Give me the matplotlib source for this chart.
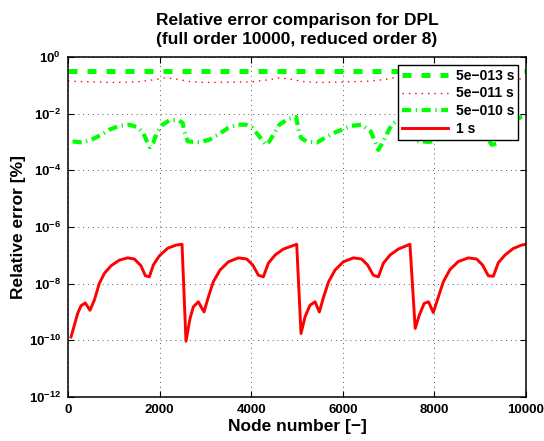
import numpy as np
import matplotlib
matplotlib.use("Agg")
import matplotlib.pyplot as plt
from matplotlib.ticker import FuncFormatter

plt.rcParams["font.family"] = ["Liberation Sans", "DejaVu Sans"]
plt.rcParams["mathtext.fontset"] = "custom"
plt.rcParams["mathtext.bf"] = "Liberation Sans:bold"
plt.rcParams["mathtext.rm"] = "Liberation Sans:bold"

# values stored as log10 of the relative error

# series 1: 5e-013 s (flat)
n_a = [0, 10000]
exp_a = [-0.51, -0.51]

# series 2: 5e-011 s
n_b = [0, 500, 1000, 1500, 1900, 2100, 2300, 2500, 2700, 3000, 3500, 4000,
       4400, 4600, 4800, 5000, 5200, 5500, 6000, 6500, 6900, 7100, 7300,
       7500, 7700, 8000, 8500, 9000, 9400, 9600, 9800, 10000]
exp_b = [-0.85, -0.88, -0.90, -0.88, -0.80, -0.74, -0.76, -0.82, -0.88, -0.90,
         -0.89, -0.88, -0.80, -0.74, -0.77, -0.83, -0.88, -0.90, -0.88, -0.86,
         -0.80, -0.74, -0.76, -0.83, -0.88, -0.89, -0.90, -0.87, -0.80, -0.74,
         -0.76, -0.80]

# series 3: 5e-010 s
n_c = [100, 320, 540, 720, 900, 1120, 1340, 1520, 1645, 1740, 1790, 1860,
       1935, 2065, 2210, 2400, 2505, 2540, 2615,
       2870, 3085, 3270, 3490, 3705, 3885, 4030, 4180, 4320, 4395, 4505, 4615,
       4800, 4980, 5050, 5090,
       5210, 5430, 5790, 6190, 6410, 6610, 6700, 6775, 6885, 6970, 7065, 7210,
       7350, 7450, 7520, 7600,
       7690, 7900, 8050, 8250, 8450, 8650, 8850, 9000, 9130, 9250, 9360, 9450,
       9550, 9700, 9900, 10000]
exp_c = [-2.98, -3.02, -2.90, -2.75, -2.57, -2.43, -2.39, -2.48, -2.69, -3.04,
         -3.18, -3.04, -2.69, -2.39, -2.24, -2.22, -2.33, -2.63, -2.98,
         -3.01, -2.92, -2.75, -2.51, -2.39, -2.39, -2.51, -2.81, -3.10, -2.98,
         -2.69, -2.39, -2.19, -2.12, -2.69, -2.86,
         -2.98, -3.02, -2.69, -2.43, -2.39, -2.63, -2.98, -3.28, -2.98, -2.69,
         -2.39, -2.22, -2.15, -2.40, -2.75, -2.97,
         -2.98, -3.00, -2.92, -2.72, -2.50, -2.39, -2.39, -2.50, -2.80, -3.10,
         -3.05, -2.75, -2.45, -2.25, -2.12, -2.10]

# series 4: 1 s
n_d = [66, 138, 211, 284, 378, 480, 575, 684, 793, 939, 1121, 1303, 1449,
       1594, 1688, 1776, 1863, 1994, 2176, 2358, 2489,
       2576, 2664, 2736, 2845, 2969, 3064, 3173, 3319, 3501, 3719, 3901, 4032,
       4156, 4265, 4374, 4520, 4701, 4993,
       5087, 5175, 5284, 5393, 5487, 5580, 5690, 5830, 6010, 6230, 6410, 6540,
       6665, 6775, 6885, 7030, 7210, 7465,
       7580, 7670, 7775, 7870, 7975, 8085, 8195, 8340, 8520, 8740, 8920, 9050,
       9175, 9285, 9395, 9540, 9720, 9900, 9990]
exp_d = [-9.88, -9.47, -9.05, -8.78, -8.68, -8.94, -8.58, -7.99, -7.64, -7.37,
         -7.17, -7.09, -7.13, -7.37, -7.72, -7.76, -7.34, -7.02, -6.75, -6.64,
         -6.61,
         -10.03, -9.23, -8.82, -8.64, -9.00, -8.47, -7.93, -7.52, -7.23, -7.09,
         -7.13, -7.34, -7.70, -7.76, -7.28, -6.99, -6.78, -6.61,
         -9.76, -9.17, -8.76, -8.64, -9.00, -8.47, -7.93, -7.52, -7.23, -7.09,
         -7.13, -7.34, -7.70, -7.76, -7.28, -6.99, -6.78, -6.61,
         -9.58, -9.11, -8.70, -8.64, -9.02, -8.47, -7.93, -7.50, -7.22, -7.09,
         -7.13, -7.34, -7.72, -7.74, -7.26, -6.99, -6.76, -6.64, -6.61]

labels = ["5e\u2212013 s", "5e\u2212011 s", "5e\u2212010 s", "1 s"]
x_ticks = [0, 2000, 4000, 6000, 8000, 10000]
y_ticks = [1e-12, 1e-10, 1e-8, 1e-6, 1e-4, 1e-2, 1e0]

green = "#00ff00"
red = "#ff0000"

fig = plt.figure(figsize=(5.44, 4.41), dpi=100)
ax = fig.add_axes([0.125, 0.0998, 0.842, 0.771])

ax.plot(n_a, 10.0 ** np.array(exp_a), color=green, lw=3.6,
        linestyle=(0, (1.8, 2.0)), label=labels[0])
ax.plot(n_b, 10.0 ** np.array(exp_b), color=red, lw=1.0,
        linestyle=(0, (1, 3.6)), label=labels[1])
ax.plot(n_c, 10.0 ** np.array(exp_c), color=green, lw=3.0,
        linestyle=(0, (2.2, 1.1, 0.3, 1.1)), label=labels[2])
ax.plot(n_d, 10.0 ** np.array(exp_d), color=red, lw=2.1, label=labels[3])

ax.set_yscale("log")
ax.set_xlim(0, 10000)
ax.set_ylim(1e-12, 1e0)
ax.set_xticks(x_ticks)
ax.set_yticks(y_ticks)
ax.minorticks_off()
ax.yaxis.set_major_formatter(
    FuncFormatter(lambda v, _: r"$\mathbf{10^{%d}}$" % int(round(np.log10(v)))))
ax.tick_params(direction="in", length=4, width=0.8, top=True, right=True,
               labelsize=9.5, pad=5)
for lab in ax.get_xticklabels():
    lab.set_fontweight("bold")

ax.grid(True, linestyle=(0, (1, 4)), color="0.35", lw=0.7)
for s in ax.spines.values():
    s.set_linewidth(1.1)

ax.set_xlabel("Node number [\u2212]", fontsize=12.5, fontweight="bold", labelpad=2)
ax.set_ylabel("Relative error [%]", fontsize=12.5, fontweight="bold", labelpad=2)
ax.set_title("Relative error comparison for DPL\n(full order 10000, reduced order 8)",
             fontsize=12.5, fontweight="bold", pad=9, linespacing=1.4)

leg = ax.legend(loc="upper right", prop={"weight": "bold", "size": 10},
                handlelength=3.3, labelspacing=0.28, borderaxespad=0.55,
                fancybox=False, framealpha=1, edgecolor="black",
                borderpad=0.28, handletextpad=0.6)
leg.get_frame().set_linewidth(1.0)

fig.savefig("out.png", dpi=100)
